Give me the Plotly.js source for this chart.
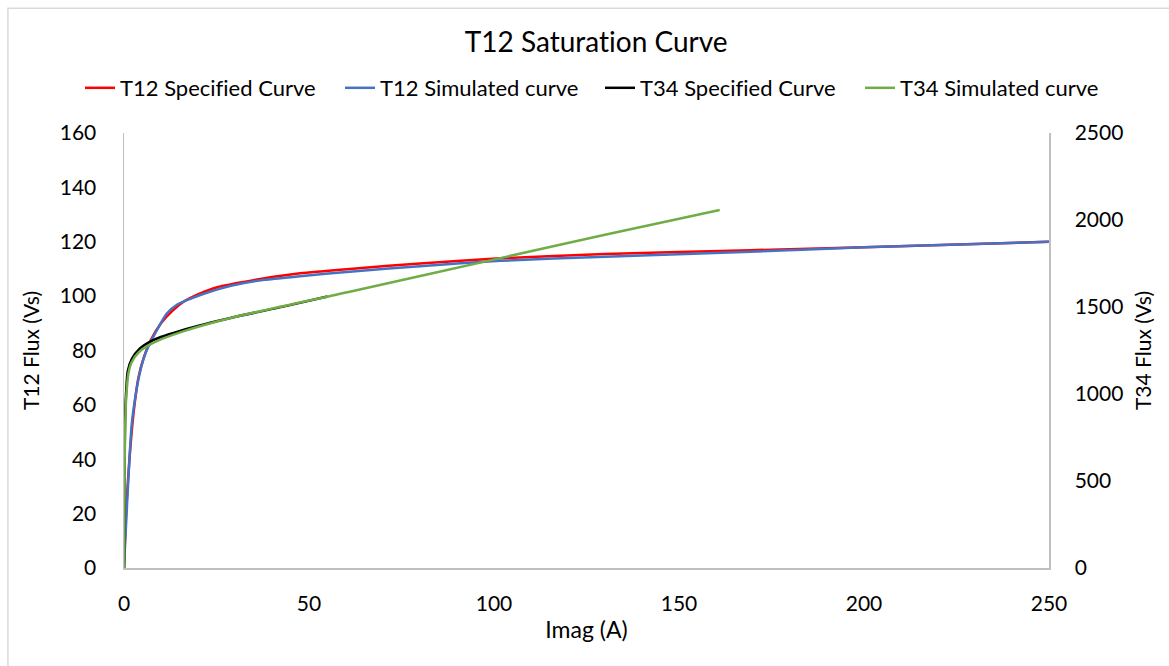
<!DOCTYPE html>
<html>
<head>
<meta charset="utf-8">
<script src="https://cdn.plot.ly/plotly-3.0.1.min.js"></script>
<style>
html,body{margin:0;padding:0;background:#fff;}
#chart{width:1169px;height:666px;}
svg text{font-variant-ligatures:none;font-feature-settings:"liga" 0;}
</style>
</head>
<body>
<div id="chart"></div>
<script>
// T12 curves (left axis)
var t12SpecI = [0, 0.3, 0.7, 1.4, 2.5, 3.9, 5.5, 7.3, 10, 13, 16.5, 20.6, 25, 31.4, 40, 47.6, 61, 80, 101.7, 130, 169.4, 200, 250];
var t12SpecF = [0, 12, 24, 38.6, 56, 70, 78, 84, 90, 94.5, 98.3, 101, 103.2, 105, 107, 108.4, 110, 112, 113.9, 115.5, 116.9, 118, 120];
var t12SimI = [0, 0.3, 0.7, 1.3, 2.1, 3.2, 4.3, 5.8, 7.5, 9.5, 11.5, 14.5, 17.9, 23, 29.5, 38, 47.6, 61, 80, 101.7, 130, 169.4, 200, 250];
var t12SimF = [0, 9, 20, 36, 53, 64, 72, 79, 84, 89, 93.5, 97, 99, 101.5, 104, 106, 107.3, 109, 111, 113, 114.5, 116.3, 118, 120];
// T34 curves (right axis)
var t34SpecI = [0, 0.1, 0.3, 0.6, 1, 2.1, 4.3, 7.9, 16, 29.6, 43, 55];
var t34SpecF = [0, 500, 850, 1020, 1130, 1200, 1262, 1310, 1368, 1441, 1502, 1560];
var t34SimI = [0, 0.1, 0.3, 0.6, 1.2, 2, 4, 8, 16, 29.6, 61, 101.7, 130, 161];
var t34SimF = [0, 420, 800, 980, 1119, 1180, 1240, 1295, 1360, 1441, 1588, 1781, 1915, 2057];

var names = ['T12 Specified Curve', 'T12 Simulated curve', 'T34 Specified Curve', 'T34 Simulated curve'];
var colors = ['#FF0000', '#4472C4', '#000000', '#70AD47'];

var traces = [
  {x: t12SpecI, y: t12SpecF, name: names[0], legend: 'legend', line: {color: colors[0], width: 2.5, shape: 'spline', smoothing: 0.6}},
  {x: t12SimI, y: t12SimF, name: names[1], legend: 'legend', line: {color: colors[1], width: 2.5, shape: 'spline', smoothing: 0.6}},
  {x: t34SpecI, y: t34SpecF, name: names[2], yaxis: 'y2', legend: 'legend2', line: {color: colors[2], width: 2.5, shape: 'spline', smoothing: 0.6}},
  {x: t34SimI, y: t34SimF, name: names[3], yaxis: 'y2', legend: 'legend2', line: {color: colors[3], width: 2.5, shape: 'spline', smoothing: 0.6}}
].map(function(t){ t.type = 'scatter'; t.mode = 'lines'; t.hoverinfo = 'skip'; return t; });

var fnt = 'Lato, "Open Sans", sans-serif';
function legendAt(px) {
  return {orientation: 'h', xref: 'container', yref: 'container', x: px/1169, xanchor: 'left', y: 1 - 88/666, yanchor: 'middle',
          font: {family: fnt, size: 22, color: '#000'}, tracegroupgap: 0, entrywidth: 215, entrywidthmode: 'pixels', bgcolor: 'rgba(0,0,0,0)'};
}
var layout = {
  width: 1169, height: 666,
  margin: {l: 124, r: 120, t: 133, b: 98},
  paper_bgcolor: '#fff', plot_bgcolor: '#fff',
  font: {family: fnt, size: 21, color: '#000'},
  showlegend: true,
  title: {text: 'T12 Saturation Curve', font: {family: fnt, size: 28, color: '#000'}, x: 0.51, xanchor: 'center', y: 0.937, yanchor: 'middle', yref: 'container'},
  legend: legendAt(80),
  legend2: legendAt(600),
  xaxis: {
    range: [0, 250], tickvals: [0, 50, 100, 150, 200, 250], ticktext: ['0','50','100','150','200','250'],
    showgrid: false, zeroline: false, showline: true, linecolor: '#BFBFBF', linewidth: 1.5,
    ticks: '', ticklabelstandoff: 16, tickfont: {size: 21},
    title: {text: 'Imag (A)', font: {family: fnt, size: 23, color: '#000'}, standoff: 8}
  },
  yaxis: {
    range: [0, 160], tickvals: [0,20,40,60,80,100,120,140,160],
    showgrid: false, zeroline: false, showline: true, linecolor: '#BFBFBF', linewidth: 1.5,
    ticks: '', ticklabelstandoff: 22, tickfont: {size: 21},
    title: {text: 'T12 Flux (Vs)', font: {family: fnt, size: 21, color: '#000'}, standoff: 14}
  },
  yaxis2: {
    range: [0, 2500], tickvals: [0,500,1000,1500,2000,2500], overlaying: 'y', side: 'right',
    showgrid: false, zeroline: false, showline: true, linecolor: '#BFBFBF', linewidth: 1.5,
    ticks: '', ticklabelstandoff: 20, tickfont: {size: 21},
    title: {text: 'T34 Flux (Vs)', font: {family: fnt, size: 21, color: '#000'}, standoff: 14}
  },
  shapes: [{type: 'rect', xref: 'paper', yref: 'paper', x0: -0.1255, x1: 1.2, y0: -0.25, y1: 1.287, line: {color: '#D9D9D9', width: 1.5}, fillcolor: 'rgba(0,0,0,0)', layer: 'below'}]
};

Plotly.newPlot('chart', traces, layout, {staticPlot: true, displayModeBar: false});
</script>
</body>
</html>
